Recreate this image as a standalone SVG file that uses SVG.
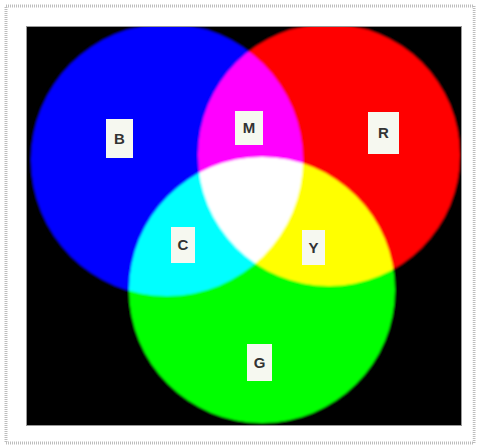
<svg xmlns="http://www.w3.org/2000/svg" width="478" height="446" viewBox="0 0 478 446">
<defs>
<style>
.lbl rect{fill:#f6f8f0}
.lbl text{font-family:"Liberation Sans",Arial,sans-serif;font-weight:bold;font-size:15px;fill:#333;text-anchor:middle}
.c{mix-blend-mode:screen}
</style>
<clipPath id="sq"><rect x="27" y="27" width="434" height="398"/></clipPath>
<filter id="soft" x="-5%" y="-5%" width="110%" height="110%"><feGaussianBlur stdDeviation="1"/></filter>
</defs>
<rect width="478" height="446" fill="#ffffff"/>
<rect x="6" y="6" width="468" height="437" fill="#ffffff" stroke="#bdbdbd" stroke-width="3" stroke-dasharray="1 1"/>
<rect x="8.5" y="8" width="464" height="433" fill="#ffffff"/>
<rect x="26.5" y="26.5" width="435" height="399" fill="#000" stroke="#999" stroke-width="1"/>
<g id="circles" clip-path="url(#sq)" style="isolation:isolate" filter="url(#soft)">
<rect x="27" y="27" width="434" height="398" fill="#000"/>
<circle id="blue" class="c" cx="167" cy="160" r="136" fill="#0000ff"/>
<circle id="red" class="c" cx="329" cy="155" r="131" fill="#ff0000"/>
<circle id="green" class="c" cx="262" cy="290" r="133" fill="#00ff00"/>
</g>
<g id="label-B" class="lbl"><rect x="106" y="119" width="27" height="39"/><text x="119.5" y="144">B</text></g>
<g id="label-M" class="lbl"><rect x="235" y="111" width="28" height="34"/><text x="249" y="133">M</text></g>
<g id="label-R" class="lbl"><rect x="368" y="112" width="31" height="42"/><text x="383.5" y="138">R</text></g>
<g id="label-C" class="lbl"><rect x="171" y="227" width="24" height="36"/><text x="183" y="250">C</text></g>
<g id="label-Y" class="lbl"><rect x="302" y="230" width="23" height="35"/><text x="313.5" y="253">Y</text></g>
<g id="label-G" class="lbl"><rect x="247" y="344" width="25" height="37"/><text x="259.5" y="368">G</text></g>
</svg>
